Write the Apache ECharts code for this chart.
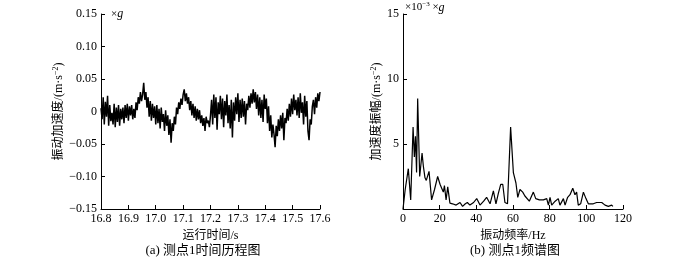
<!DOCTYPE html>
<html><head><meta charset="utf-8">
<script src="https://cdn.jsdelivr.net/npm/echarts@6/dist/echarts.min.js"></script>
<style>html,body{margin:0;padding:0;background:#fff}#c{width:700px;height:259px}</style>
</head><body><div id="c"></div>
<script>
// ---- data (a) time history: samples every 0.004 s from 16.8 s ----
const timeStart = 16.8;
const timeStep = 0.004;
const timeAccel = [
 0.005,-0.012,0.022,-0.02,0.015,-0.008,0.024,-0.022,0.01,-0.015,
 -0.002,-0.02,0.012,-0.024,0.006,-0.016,0.01,-0.022,0.004,-0.012,
 0.006,-0.018,0.01,-0.01,0.012,-0.014,0.008,-0.006,0.01,-0.012,
 0.004,-0.01,0.014,0.002,0.022,0.012,0.03,0.016,0.026,0.044,
 0.018,0.03,0.006,0.022,-0.008,0.016,-0.014,0.012,-0.01,0.008,
 -0.02,0.01,-0.018,0.004,-0.026,0.006,-0.016,-0.004,-0.03,0.002,
 -0.022,-0.006,-0.036,-0.012,-0.048,-0.018,-0.03,-0.008,-0.02,0.006,
 -0.004,0.014,0.004,0.02,0.01,0.026,0.034,0.016,0.028,0.012,
 0.022,0.002,0.016,-0.006,0.012,-0.01,0.008,-0.014,0.004,-0.012,
 0.002,-0.018,-0.006,-0.022,-0.01,-0.03,-0.008,-0.018,-0.014,-0.024,
 -0.006,0.018,-0.02,0.026,-0.01,0.022,-0.028,0.014,-0.004,0.024,
 -0.012,0.02,-0.024,0.016,-0.006,0.026,-0.018,0.01,-0.026,0.018,
 -0.04,0.014,-0.014,0.022,-0.004,0.028,-0.016,0.018,-0.01,0.02,
 -0.008,0.016,-0.02,0.012,0.002,0.024,0.006,0.028,0.012,0.034,
 0.014,0.03,0.004,0.026,-0.006,0.022,-0.01,0.018,-0.016,0.026,
 0.004,0.02,-0.018,0.008,-0.03,-0.006,-0.04,-0.02,-0.035,-0.055,
 -0.022,-0.038,-0.012,-0.03,-0.006,-0.026,-0.002,-0.044,-0.01,-0.018,
 0.004,-0.014,0.012,-0.008,0.02,-0.004,0.026,0.002,0.018,-0.006,
 0.022,-0.01,0.028,-0.002,0.014,-0.02,0.024,-0.008,0.016,-0.03,
 -0.044,-0.012,-0.02,0.008,0.018,-0.004,0.022,0.006,0.028,0.016,
 0.03
];
const timeTickLabels = ['16.8','16.9','17.0','17.1','17.2','17.3','17.4','17.5','17.6'];
const accelTickLabels = ['\u22120.15','\u22120.10','\u22120.05','0','0.05','0.10','0.15'];

// ---- data (b) spectrum ----
const freqHz = [0,1.2,2.9,4.2,5.5,6.2,6.8,7.4,8.0,9.1,10.4,11.1,12.0,12.7,14.2,15.6,17.2,18.9,20.2,21.1,22.0,22.6,23.5,24.4,25.6,27,29,31.1,32.5,34,35.1,36.5,38.5,40.2,42,44,45.6,47.5,49.3,50.7,52,53.3,54.4,55.6,57,58.7,60.2,61.6,62.6,63.8,65.3,66.5,67.5,68.9,71.1,72.4,74.4,76.6,78.4,79.3,80.2,81.1,83,84.7,85.6,87.5,88.4,89.8,91.1,92.6,93.8,94.7,95.6,96.9,98.4,99.8,101.1,103.8,105.6,108.4,110.2,112,113.8,114.5];
const ampSpec = [0,1.5,3.1,0.7,6.3,4.0,5.6,2.8,8.5,2.5,4.3,3.3,2.4,2.2,2.9,0.7,1.5,2.5,1.9,1.6,1.3,1.8,0.7,1.7,0.45,0.4,0.3,0.5,0.2,0.4,0.5,0.3,0.5,0.8,0.3,0.6,0.9,0.4,1.4,0.4,1.2,1.9,1.9,0.5,0.4,6.3,2.8,2.0,0.9,1.5,1.3,1.0,1.1,0.6,1.3,0.8,0.7,0.7,0.8,0.3,0.9,0.3,0.6,0.8,0.3,0.8,0.3,0.9,1.1,1.6,1.1,1.3,0.3,0.4,1.3,0.8,0.4,0.4,0.5,0.5,0.3,0.2,0.3,0.2];
const freqTickLabels = ['0','20','40','60','80','100','120'];
const ampTickLabels = ['0','5','10','15'];

const FF = "'Liberation Serif','Noto Sans CJK SC',serif";
const timeData = timeAccel.map((v, i) => [timeStart + i * timeStep, v]);
const specData = freqHz.map((f, i) => [f, ampSpec[i]]);

function lookup(labels, min, step) {
  return v => { const k = Math.round((v - min) / step); return labels[k] !== undefined ? labels[k] : ''; };
}
const axisCommon = {
  axisLine: { show: true, onZero: false, lineStyle: { color: '#000', width: 1 } },
  axisTick: { show: true, inside: true, length: 4, lineStyle: { color: '#000' } },
  splitLine: { show: false }
};
const nameStyle = {
  fontSize: 12, color: '#000', fontFamily: FF,
  rich: { sup: { fontSize: 8, fontFamily: FF, color: '#000', padding: [0, 0, 6, 0] } }
};

const chart = echarts.init(document.getElementById('c'), null, { renderer: 'canvas' });
chart.setOption({
  animation: false,
  backgroundColor: '#fff',
  grid: [
    { left: 101, top: 14, width: 219, height: 195 },
    { left: 403, top: 14, width: 220, height: 195 }
  ],
  xAxis: [
    Object.assign({}, axisCommon, {
      type: 'value', gridIndex: 0, min: 16.8, max: 17.6, interval: 0.1,
      axisLabel: { fontSize: 12, color: '#000', fontFamily: FF, margin: 4, formatter: lookup(timeTickLabels, 16.8, 0.1) },
      name: '运行时间/s', nameLocation: 'middle', nameGap: 19, nameTextStyle: nameStyle
    }),
    Object.assign({}, axisCommon, {
      type: 'value', gridIndex: 1, min: 0, max: 120, interval: 20,
      axisLabel: { fontSize: 12, color: '#000', fontFamily: FF, margin: 4, formatter: lookup(freqTickLabels, 0, 20) },
      name: '振动频率/Hz', nameLocation: 'middle', nameGap: 19, nameTextStyle: nameStyle
    })
  ],
  yAxis: [
    Object.assign({}, axisCommon, {
      type: 'value', gridIndex: 0, min: -0.15, max: 0.15, interval: 0.05,
      axisLabel: { fontSize: 12, color: '#000', fontFamily: FF, margin: 4, formatter: lookup(accelTickLabels, -0.15, 0.05) },
      name: '振动加速度/(m·s{sup|\u22122})', nameLocation: 'middle', nameGap: 33, nameRotate: 90, nameTextStyle: nameStyle
    }),
    Object.assign({}, axisCommon, {
      type: 'value', gridIndex: 1, min: 0, max: 15, interval: 5,
      axisLabel: { fontSize: 12, color: '#000', fontFamily: FF, margin: 4, showMinLabel: false, formatter: lookup(ampTickLabels, 0, 5) },
      name: '加速度振幅/(m·s{sup|\u22122})', nameLocation: 'middle', nameGap: 18, nameRotate: 90, nameTextStyle: nameStyle
    })
  ],
  graphic: [
    { type: 'text', left: 111, top: 8, style: { text: '×{i|g}', fontSize: 11, fontFamily: FF, fill: '#000',
        rich: { i: { fontSize: 12, fontStyle: 'italic', fontFamily: FF } } } },
    { type: 'text', left: 405, top: 1, style: { text: '×10{sup|\u22123} ×{i|g}', fontSize: 11, fontFamily: FF, fill: '#000',
        rich: { sup: { fontSize: 7, fontFamily: FF, padding: [0, 0, 6, 0] }, i: { fontSize: 12, fontStyle: 'italic', fontFamily: FF } } } },
    { type: 'text', x: 203, y: 251, style: { text: '(a) 测点1时间历程图', fontSize: 13, fontFamily: FF, fill: '#000', align: 'center', verticalAlign: 'middle' } },
    { type: 'text', x: 515, y: 251, style: { text: '(b) 测点1频谱图', fontSize: 13, fontFamily: FF, fill: '#000', align: 'center', verticalAlign: 'middle' } }
  ],
  series: [
    { type: 'line', xAxisIndex: 0, yAxisIndex: 0, data: timeData, showSymbol: false, lineStyle: { color: '#000', width: 1.5 } },
    { type: 'line', xAxisIndex: 1, yAxisIndex: 1, data: specData, showSymbol: false, lineStyle: { color: '#000', width: 1.2 } }
  ]
});
</script></body></html>
